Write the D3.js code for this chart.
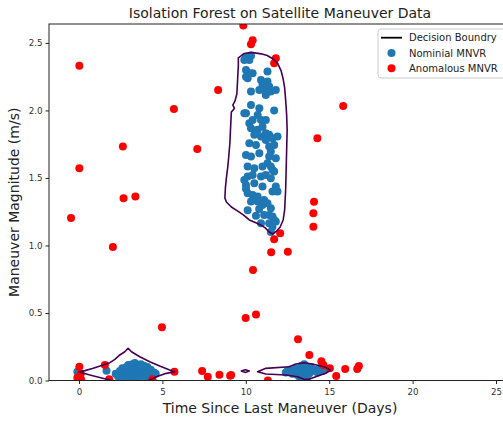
<!DOCTYPE html>
<html>
<head>
<meta charset="utf-8">
<script src="https://cdn.jsdelivr.net/npm/d3@7"></script>
<style>
	body { margin: 0; background: #fff; }
	text { font-family: "DejaVu Sans", sans-serif; }
</style>
</head>
<body>
<div id="chart"></div>
<script>
// tick labels
var xTicks = [0, 5, 10, 15, 20, 25];
var yTicks = [0, 0.5, 1.0, 1.5, 2.0, 2.5];

// nominal manoeuvres [days, m/s]
var nominal = [
	[10.01,2.394],[10.31,2.404],[10.21,2.374],[9.91,2.374],[10.01,2.300],[10.21,2.275],[10.41,2.275],
	[10.11,2.238],[11.30,2.288],[10.91,2.226],[11.00,2.189],[11.30,2.214],[11.40,2.177],[11.10,2.152],
	[10.81,2.152],[11.20,2.115],[11.50,2.140],[11.80,2.152],[10.31,2.140],[10.01,2.250],[10.31,2.041],
	[10.81,2.016],[11.70,1.999],[10.71,1.967],[10.91,1.930],[10.01,1.979],[9.91,1.980],[10.21,1.905],
	[10.41,1.930],[11.20,1.930],[10.31,1.868],[10.71,1.856],[11.00,1.880],[11.20,1.831],[11.40,1.819],
	[11.60,1.794],[11.90,1.806],[10.91,1.806],[10.51,1.819],[10.21,1.757],[10.61,1.744],[11.20,1.781],
	[11.40,1.732],[11.70,1.744],[11.50,1.695],[10.01,1.670],[10.31,1.658],[10.81,1.683],[11.40,1.658],
	[11.80,1.646],[10.11,1.584],[10.51,1.572],[11.00,1.584],[11.30,1.609],[11.50,1.584],[11.70,1.547],
	[10.11,1.510],[10.41,1.522],[10.91,1.510],[11.20,1.522],[11.50,1.498],[11.60,1.559],[9.91,1.485],
	[10.01,1.448],[10.51,1.461],[11.00,1.436],[11.80,1.436],[10.01,1.420],[10.11,1.386],[10.41,1.374],
	[10.71,1.362],[11.10,1.337],[11.60,1.399],[11.90,1.399],[10.31,1.325],[10.71,1.325],[11.00,1.300],
	[11.30,1.312],[11.50,1.275],[10.11,1.260],[10.80,1.270],[10.61,1.220],[11.40,1.226],[11.60,1.214],
	[11.70,1.189],[10.91,1.164],[11.40,1.164],[11.60,1.139],[11.80,1.177],[11.10,1.226],[11.50,1.100],
	[-0.10,0.065],[1.65,0.073],
	[2.20,0.05],[2.35,0.03],[2.45,0.07],[2.55,0.04],[2.60,0.09],[2.70,0.02],[2.75,0.06],[2.85,0.10],
	[2.90,0.04],[2.95,0.115],[3.00,0.07],[3.05,0.02],[3.10,0.09],[3.15,0.05],[3.20,0.12],[3.30,0.03],
	[3.35,0.13],[3.40,0.08],[3.45,0.05],[3.55,0.10],[3.60,0.02],[3.65,0.06],[3.70,0.12],[3.80,0.09],
	[3.85,0.04],[3.90,0.11],[4.00,0.07],[4.05,0.02],[4.10,0.10],[4.20,0.05],[4.30,0.08],[4.40,0.04],
	[4.50,0.06],[4.60,0.05],
	[12.40,0.06],[12.50,0.07],[12.60,0.08],[12.80,0.05],[13.00,0.09],[13.10,0.04],[13.20,0.07],[13.25,0.02],
	[13.35,0.11],[13.40,0.03],[13.50,0.12],[13.55,0.06],[13.65,0.02],[13.70,0.09],[13.80,0.05],[13.90,0.10],
	[14.00,0.07],[14.15,0.08],[14.30,0.06],[14.45,0.09],[14.60,0.07],[14.75,0.08]
];

// anomalous manoeuvres [days, m/s]
var anomalous = [
	[0.02,2.33],[0.02,1.572],[-0.48,1.203],[2.03,0.989],[2.63,1.732],[2.67,1.35],[3.38,1.362],
	[5.69,2.011],[7.09,1.715],[8.34,2.152],[9.85,2.628],[10.31,2.49],[10.41,2.52],[11.80,2.387],
	[11.70,2.35],[15.84,2.033],[14.29,1.794],[14.09,1.324],[14.05,1.239],[14.05,1.139],[12.06,1.090],
	[11.70,1.046],[11.52,0.950],[12.52,0.954],[10.43,0.819],[9.99,0.463],[10.61,0.488],[4.97,0.394],
	[13.13,0.305],[13.81,0.189],[14.53,0.142],[14.65,0.115],[15.04,0.090],[15.42,0.033],[15.96,0.085],
	[16.68,0.085],[16.78,0.107],[9.12,0.041],[11.32,0.0],[0.02,0.102],[-0.10,0.02],[0.10,0.05],
	[0.12,0.01],[1.55,0.115],[1.81,0.009],[4.40,0.009],[5.72,0.065],[7.38,0.070],[7.72,0.028],
	[8.42,0.043],[9.06,0.036]
];

// decision boundary contours [days, m/s]
var boundaryUpper = [
	[9.552,2.389],[9.910,2.422],[10.328,2.430],[10.925,2.419],[11.284,2.407],[11.642,2.381],[11.910,2.348],
	[12.119,2.293],[12.239,2.233],[12.328,2.167],[12.388,2.078],[12.448,1.967],[12.478,1.856],[12.448,1.707],
	[12.418,1.559],[12.388,1.411],[12.328,1.263],[12.239,1.189],[12.060,1.137],[11.821,1.104],[11.612,1.085],
	[11.403,1.100],[11.164,1.130],[10.896,1.152],[10.567,1.170],[10.209,1.189],[9.851,1.226],[9.493,1.256],
	[9.134,1.285],[8.836,1.322],[8.746,1.352],[8.776,1.426],[8.836,1.500],[8.925,1.589],[8.985,1.670],
	[9.045,1.759],[9.075,1.841],[9.104,1.915],[9.134,1.989],[9.313,2.015],[9.224,2.041],[9.343,2.067],
	[9.463,2.122],[9.493,2.189],[9.522,2.263],[9.552,2.330]
];
var boundaryLeft = [
	[0.018,0.065],[0.358,0.073],[0.854,0.090],[1.851,0.132],[2.149,0.157],[2.448,0.189],[2.746,0.213],
	[2.943,0.239],[3.146,0.213],[3.642,0.176],[4.239,0.139],[4.836,0.107],[5.433,0.078],[5.731,0.065],
	[5.236,0.053],[4.639,0.028],[4.239,0.004],[3.940,-0.011],[2.149,-0.011],[1.851,0.004],[1.057,0.028],
	[0.257,0.053]
];
var boundaryRight = [
	[10.704,0.065],[11.206,0.090],[12.597,0.102],[12.997,0.122],[13.493,0.132],[13.988,0.122],[14.687,0.102],
	[15.087,0.078],[14.788,0.053],[14.191,0.028],[13.791,0.009],[13.493,0.009],[13.093,0.028],[12.400,0.041],
	[11.206,0.048]
];
var boundarySmall = [[9.73,0.07],[9.97,0.08],[10.21,0.07],[9.97,0.06]];

var legendLabels = ["Decision Boundry", "Nominial MNVR", "Anomalous MNVR"];

var W = 503, H = 421;
var plotLeft = 49, plotTop = 24, plotRight = 511, plotBottom = 380.5;

var x = d3.scaleLinear().domain([-1.8, 25.9]).range([plotLeft, plotRight]);
var y = d3.scaleLinear().domain([0, 2.64]).range([plotBottom, plotTop]);

var svg = d3.select("#chart").append("svg")
	.attr("width", W)
	.attr("height", H);

svg.append("defs").append("clipPath")
	.attr("id", "plotclip")
	.append("rect")
	.attr("x", plotLeft).attr("y", plotTop)
	.attr("width", plotRight - plotLeft).attr("height", plotBottom - plotTop);

var plot = svg.append("g").attr("clip-path", "url(#plotclip)");

plot.selectAll(".nom")
	.data(nominal)
	.enter().append("circle")
	.attr("class", "nom")
	.attr("cx", function(d) { return x(d[0]); })
	.attr("cy", function(d) { return y(d[1]); })
	.attr("r", 4)
	.style("fill", "#1f77b4");

plot.selectAll(".anom")
	.data(anomalous)
	.enter().append("circle")
	.attr("class", "anom")
	.attr("cx", function(d) { return x(d[0]); })
	.attr("cy", function(d) { return y(d[1]); })
	.attr("r", 4)
	.style("fill", "#ff0000");

var line = d3.line()
	.x(function(d) { return x(d[0]); })
	.y(function(d) { return y(d[1]); })
	.curve(d3.curveLinearClosed);

plot.selectAll(".boundary")
	.data([boundaryUpper, boundaryLeft, boundaryRight, boundarySmall])
	.enter().append("path")
	.attr("class", "boundary")
	.attr("d", line)
	.style("fill", "none")
	.style("stroke", "#440154")
	.style("stroke-width", 1.6)
	.style("stroke-linejoin", "round");

// axes
var xAxis = d3.axisBottom(x).tickValues(xTicks).tickSize(3.5).tickSizeOuter(0).tickPadding(4.5);
var yAxis = d3.axisLeft(y).tickValues(yTicks).tickSize(3.5).tickSizeOuter(0).tickPadding(3)
	.tickFormat(d3.format(".1f"));

var gx = svg.append("g")
	.attr("transform", "translate(0," + plotBottom + ")")
	.call(xAxis);
var gy = svg.append("g")
	.attr("transform", "translate(" + plotLeft + ",0)")
	.call(yAxis);

[gx, gy].forEach(function(g) {
	g.select(".domain").remove();
	g.selectAll("line").style("stroke", "#222");
	g.selectAll("text").style("font-size", "8.7px").style("fill", "#333")
		.style("font-family", "DejaVu Sans, sans-serif");
});

// spines
svg.append("rect")
	.attr("x", plotLeft).attr("y", plotTop)
	.attr("width", plotRight - plotLeft).attr("height", plotBottom - plotTop)
	.style("fill", "none")
	.style("stroke", "#222")
	.style("stroke-width", 1);

svg.append("text")
	.attr("x", (plotLeft + plotRight) / 2)
	.attr("y", 18)
	.style("text-anchor", "middle")
	.style("font-size", "14px")
	.style("fill", "#222")
	.text("Isolation Forest on Satellite Maneuver Data");

svg.append("text")
	.attr("x", (plotLeft + plotRight) / 2)
	.attr("y", 413)
	.style("text-anchor", "middle")
	.style("font-size", "14px")
	.style("fill", "#222")
	.text("Time Since Last Maneuver (Days)");

svg.append("text")
	.attr("transform", "translate(19," + (plotTop + plotBottom) / 2 + ") rotate(-90)")
	.style("text-anchor", "middle")
	.style("font-size", "14px")
	.style("fill", "#222")
	.text("Maneuver Magnitude (m/s)");

// legend
var legend = svg.append("g").attr("class", "legend");

legend.append("rect")
	.attr("x", 378).attr("y", 29)
	.attr("width", 130).attr("height", 49)
	.attr("rx", 3)
	.style("fill", "#fff")
	.style("fill-opacity", 0.8)
	.style("stroke", "#ccc")
	.style("stroke-width", 1);

var entries = legend.selectAll(".entry")
	.data(legendLabels)
	.enter().append("g")
	.attr("class", "entry")
	.attr("transform", function(d, i) { return "translate(0," + (37.7 + i * 15.3) + ")"; });

entries.filter(function(d, i) { return i == 0; })
	.append("line")
	.attr("x1", 381).attr("x2", 402)
	.attr("y1", 0).attr("y2", 0)
	.style("stroke", "#000")
	.style("stroke-width", 1.8);

entries.filter(function(d, i) { return i > 0; })
	.append("circle")
	.attr("cx", 391.5)
	.attr("r", 4)
	.style("fill", function(d, i) { return i == 0 ? "#1f77b4" : "#ff0000"; });

entries.append("text")
	.attr("x", 409)
	.attr("dy", "0.35em")
	.style("font-size", "10px")
	.style("fill", "#222")
	.text(function(d) { return d; });
</script>
</body>
</html>
